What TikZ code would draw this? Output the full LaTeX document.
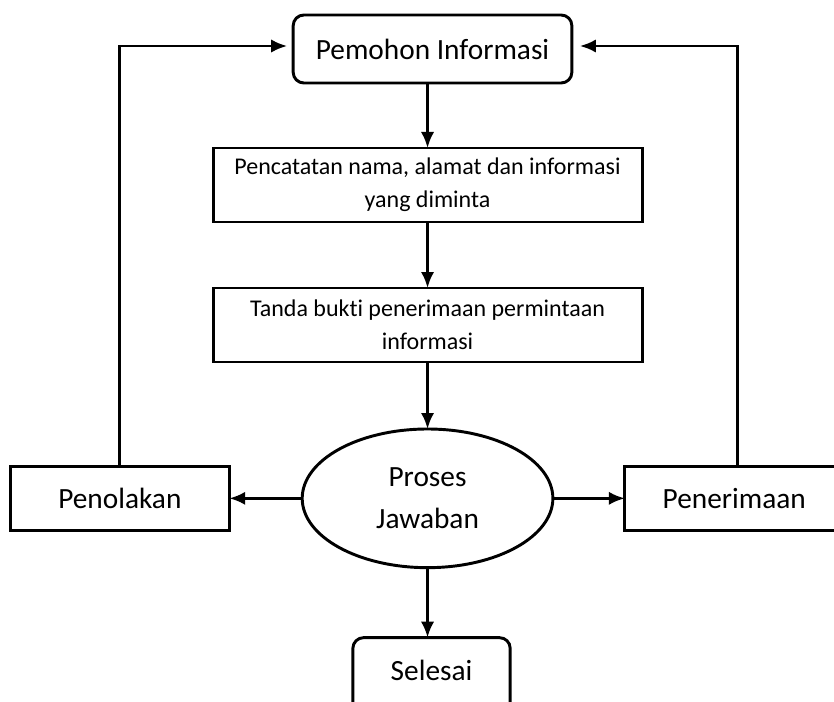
\documentclass[tikz,border=0pt]{standalone}
\usepackage{fontspec}
\setmainfont{Carlito}[Ligatures=NoCommon]
\usepackage{tikz}
\usetikzlibrary{shapes.geometric, arrows.meta, positioning}

\begin{document}
\begin{tikzpicture}[
    node distance=49pt and 54pt,
    every node/.style={line width=2.2pt, outer sep=0pt},
    box/.style={draw, rectangle, minimum height=48pt, minimum width=164pt,
      align=center, font=\fontsize{22}{31.5}\selectfont},
    roundbox/.style={box, rounded corners=8pt},
    stepbox/.style={draw, rectangle, minimum height=55.5pt, minimum width=321.75pt,
      align=center, font=\fontsize{18}{25}\selectfont},
    procnode/.style={draw, ellipse, inner sep=0pt, minimum width=188pt,
      minimum height=104pt, align=center, font=\fontsize{22}{31.5}\selectfont},
    arrow/.style={line width=2.2pt, -{Latex[length=12pt,width=10pt]}}
]
\path[use as bounding box, clip] (0,0) rectangle (625.5pt,-526.5pt);

\node[roundbox, minimum width=209pt, minimum height=51pt] (pemohon) at (324.4pt,-36.75pt) {Pemohon Informasi};
\node[stepbox, below=48.75pt of pemohon, xshift=-3.75pt] (catat) {Pencatatan nama, alamat dan informasi\\yang diminta};
\node[stepbox, below=49.5pt of catat] (bukti) {Tanda bukti penerimaan permintaan\\informasi};
\node[procnode, below=50.25pt of bukti] (proses) {Proses\\Jawaban};
\node[box, left=54.75pt of proses] (tolak) {Penolakan};
\node[box, right=of proses] (terima) {Penerimaan};
% bottom edge runs off the page
\node[roundbox, minimum width=118pt, minimum height=64pt, text height=15.5pt, text depth=16pt,
  below=52.5pt of proses, xshift=3pt] (selesai) {Selesai};

\draw[arrow] (pemohon.south -| catat) -- (catat);
\draw[arrow] (catat) -- (bukti);
\draw[arrow] (bukti) -- (proses);
\draw[arrow] (proses) -- (tolak);
\draw[arrow] (proses) -- (terima);
\draw[arrow] (proses.south) -- (proses.south |- selesai.north);
\draw[arrow, shorten >=4.5pt] (tolak.north) |- ([yshift=2.25pt]pemohon.west);
\draw[arrow, shorten >=6pt] ([xshift=2.25pt]terima.north) |- ([yshift=2.25pt]pemohon.east);
\end{tikzpicture}
\end{document}
